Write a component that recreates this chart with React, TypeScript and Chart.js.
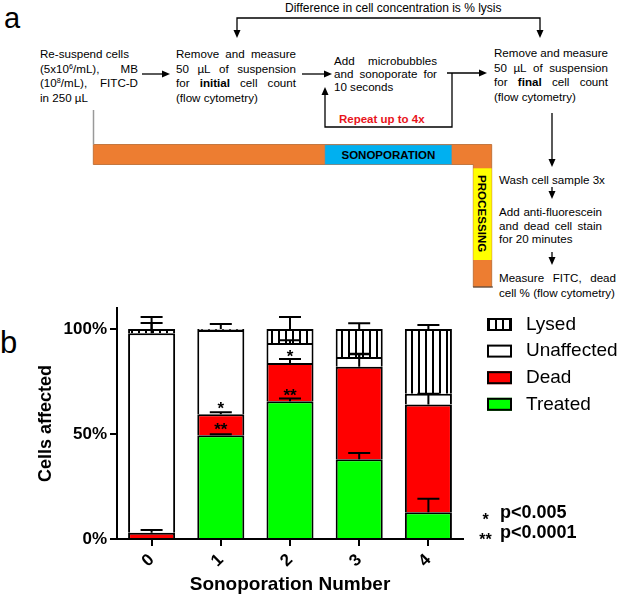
import React, { useEffect, useRef } from 'react';
import { Chart, registerables } from 'chart.js';

Chart.register(...registerables);

const FF = "'Liberation Sans', Arial, Helvetica, sans-serif";
Chart.defaults.font.family = FF;
Chart.defaults.color = '#000';

// ---- data ----
const categories = ['0', '1', '2', '3', '4'];
const seriesNames = ['Treated', 'Dead', 'Unaffected', 'Lysed'];
const treated = [0, 49.4, 65.6, 38, 12.7];
const dead = [3, 10, 18.2, 44, 51.4];
const unaffected = [95, 40.1, 9.5, 4.7, 5.1];
const lysed = [2, 0.5, 6.7, 13.3, 30.8];
const treatedErr = [0, 0.5, 1.3, 3, 6.5];
const deadErr = [1.3, 0.9, 1.9, 6, 5.1];
const unaffectedErr = [4.9, 0, 1.3, 1.5, 0];
const lysedErr = [5.7, 2.4, 5.7, 2.7, 1.9];
const deadStars = ['', '**', '**', '', ''];
const unaffectedStars = ['', '*', '*', '', ''];
const yTicks = [0, 50, 100];
const pStars = ['*', '**'];
const pLabels = ['p<0.005', 'p<0.0001'];

const seriesData = [treated, dead, unaffected, lysed];
const seriesErr = [treatedErr, deadErr, unaffectedErr, lysedErr];
const seriesStars: (string[] | null)[] = [null, deadStars, unaffectedStars, null];

const overlayPlugin = {
  id: 'overlay',
  afterDatasetsDraw(chart: any) {
    const { ctx } = chart;
    const y = chart.scales.y;
    ctx.save();
    chart.data.datasets.forEach((ds: any, di: number) => {
      const meta = chart.getDatasetMeta(di);
      meta.data.forEach((el: any, i: number) => {
        let base = 0;
        for (let k = 0; k < di; k++) base += chart.data.datasets[k].data[i];
        const top = base + ds.data[i];
        // stars
        const st = seriesStars[di];
        if (st && st[i]) {
          const py = y.getPixelForValue(base + 5);
          ctx.font = `bold 17px ${FF}`;
          ctx.textAlign = 'center';
          ctx.textBaseline = 'alphabetic';
          ctx.fillStyle = '#000';
          ctx.fillText(st[i], el.x, py + 0.58 * 17);
        }
        // error bars
        const e = seriesErr[di][i];
        if (e) {
          const y0 = y.getPixelForValue(top);
          const y1 = y.getPixelForValue(top + e);
          ctx.strokeStyle = '#000';
          ctx.lineWidth = 2;
          ctx.beginPath();
          ctx.moveTo(el.x, y0);
          ctx.lineTo(el.x, y1);
          ctx.moveTo(el.x - 11, y1);
          ctx.lineTo(el.x + 11, y1);
          ctx.stroke();
        }
      });
    });
    ctx.restore();
  },
  afterDraw(chart: any) {
    const { ctx, chartArea } = chart;
    ctx.save();
    // legend (reverse order)
    const items = chart.data.datasets.map((d: any) => ({ label: d.label, fill: d.backgroundColor })).reverse();
    const x0 = chartArea.right + 24;
    const y0 = chartArea.top + 16.5;
    items.forEach((it: any, k: number) => {
      const cy = y0 + k * 26.6;
      ctx.fillStyle = it.fill;
      ctx.fillRect(x0, cy - 6.5, 25, 13);
      ctx.lineWidth = 2;
      ctx.strokeStyle = '#000';
      ctx.strokeRect(x0 + 1, cy - 5.5, 23, 11);
      ctx.fillStyle = '#000';
      ctx.font = `19px ${FF}`;
      ctx.textAlign = 'left';
      ctx.textBaseline = 'middle';
      ctx.fillText(it.label, x0 + 39, cy);
    });
    // p-value notes
    pLabels.forEach((lab, k) => {
      const cy = chartArea.bottom - 25.5 + k * 20;
      ctx.fillStyle = '#000';
      ctx.font = `bold 18px ${FF}`;
      ctx.textAlign = 'left';
      ctx.textBaseline = 'middle';
      ctx.fillText(lab, chartArea.right + 37, cy);
      ctx.font = `bold 16px ${FF}`;
      ctx.textAlign = 'center';
      ctx.textBaseline = 'alphabetic';
      ctx.fillText(pStars[k], chartArea.right + 22.5, cy + 2.5 + 9.3);
    });
    ctx.restore();
  },
};

const FS = 11.6;
const supS: any = { fontSize: '0.62em', verticalAlign: '0.5em', lineHeight: 0 };

function Txt({ x, y, w, words, lh = 14, style }: any) {
  const common: any = {
    position: 'absolute', left: x, top: y - lh / 2, height: lh, lineHeight: lh + 'px',
    fontSize: FS, whiteSpace: 'nowrap', ...style,
  };
  if (w) {
    return (
      <div style={{ ...common, width: w, display: 'flex', justifyContent: 'space-between' }}>
        {words.map((wd: any, i: number) => <span key={i}>{wd}</span>)}
      </div>
    );
  }
  return <div style={common}>{words}</div>;
}

function ah(x: number, y: number, dir: string) {
  const L = 8, W = 3.5;
  let pts: number[][] = [];
  if (dir === 'r') pts = [[x, y], [x - L, y - W], [x - L, y + W]];
  if (dir === 'd') pts = [[x, y], [x - W, y - L], [x + W, y - L]];
  if (dir === 'u') pts = [[x, y], [x - W, y + L], [x + W, y + L]];
  return <polygon points={pts.map(p => p.join(',')).join(' ')} fill="#000" />;
}

export default function App() {
  const ref = useRef<HTMLCanvasElement>(null);
  useEffect(() => {
    const canvas = ref.current!;
    const pc = document.createElement('canvas');
    pc.width = 7; pc.height = 7;
    const pctx = pc.getContext('2d')!;
    pctx.fillStyle = '#fff'; pctx.fillRect(0, 0, 7, 7);
    pctx.fillStyle = '#000'; pctx.fillRect(5, 0, 2, 7);
    const hatch = canvas.getContext('2d')!.createPattern(pc, 'repeat');
    const colors: any[] = ['#00ff00', '#ff0000', '#ffffff', hatch];
    const chart = new Chart(canvas, {
      type: 'bar',
      data: {
        labels: categories,
        datasets: seriesData.map((d, i) => ({
          label: seriesNames[i], data: d, backgroundColor: colors[i], borderColor: '#000',
          borderWidth: 2, barPercentage: 0.68, categoryPercentage: 1,
        })),
      },
      options: {
        responsive: false,
        animation: false,
        layout: { padding: { top: 18, right: 157, left: 0, bottom: 0 } },
        plugins: { legend: { display: false }, tooltip: { enabled: false } },
        scales: {
          x: {
            stacked: true,
            grid: { display: true, drawOnChartArea: false, drawTicks: true, tickLength: 7, color: '#000', lineWidth: 2, offset: false },
            border: { display: true, color: '#000', width: 2 },
            ticks: { font: { weight: 'bold', size: 17 }, color: '#000', minRotation: 45, maxRotation: 45, padding: 4 },
            title: { display: true, text: 'Sonoporation Number', font: { weight: 'bold', size: 19 }, color: '#000', padding: { top: 0, bottom: 1.6 } },
            afterFit: (s: any) => { s.height = 59; },
          },
          y: {
            stacked: true, min: 0, max: 110,
            afterBuildTicks: (s: any) => { s.ticks = yTicks.map(v => ({ value: v })); },
            ticks: { callback: (v: any) => v + '%', font: { weight: 'bold', size: 17 }, color: '#000', padding: 3 },
            grid: { display: true, drawOnChartArea: false, drawTicks: true, tickLength: 7, color: '#000', lineWidth: 2 },
            border: { display: true, color: '#000', width: 2 },
            title: { display: true, text: 'Cells affected', font: { weight: 'bold', size: 18 }, color: '#000', padding: { top: 35, bottom: 0 } },
            afterFit: (s: any) => { s.width = 117; },
          },
        },
      } as any,
      plugins: [overlayPlugin],
    });
    return () => chart.destroy();
  }, []);

  const B = (t: string) => <b>{t}</b>;
  return (
    <div style={{ position: 'absolute', left: 0, top: 0, width: 620, height: 598, background: '#fff', fontFamily: FF, color: '#000', overflow: 'hidden' }}>
      <svg width={620} height={300} style={{ position: 'absolute', left: 0, top: 0 }}>
        {/* process bar */}
        <path d="M93.3,144.5 H491.7 V287 H473.3 V164.5 H93.3 Z" fill="#ED7D31" stroke="#b8642a" strokeWidth={0.8} />
        <rect x={325} y={145} width={126.7} height={19.3} fill="#00B0F0" stroke="#6a8fa0" strokeWidth={0.6} />
        <rect x={473.3} y={168.3} width={18.4} height={91.7} fill="#FFFF00" />
        <line x1={473} y1={287} x2={493} y2={287} stroke="#444" strokeWidth={1} />
        <line x1={93.5} y1={110} x2={93.5} y2={144.5} stroke="#999" strokeWidth={1.5} />
        <g stroke="#000" strokeWidth={1.3} fill="none">
          <polyline points="237,31 237,18 540,18 540,31" />
          <line x1={142} y1={74} x2={163} y2={74} />
          <line x1={302} y1={74} x2={325} y2={74} />
          <line x1={447} y1={73} x2={480} y2={73} />
          <polyline points="452,73 452,127 325,127 325,94" />
          <line x1={552} y1={113} x2={552} y2={160} />
          <line x1={552} y1={187} x2={552} y2={193} />
          <line x1={552} y1={252} x2={552} y2={259} />
        </g>
        {ah(237, 38, 'd')}
        {ah(540, 38, 'd')}
        {ah(170, 74, 'r')}
        {ah(332, 74, 'r')}
        {ah(487, 73, 'r')}
        {ah(325, 87, 'u')}
        {ah(552, 167, 'd')}
        {ah(552, 199, 'd')}
        {ah(552, 265, 'd')}
      </svg>

      <div style={{ position: 'absolute', left: 4, top: 2.6, fontSize: 29, lineHeight: '30px' }}>a</div>
      <div style={{ position: 'absolute', left: 0, top: 327, fontSize: 31, lineHeight: '32px' }}>b</div>

      <Txt x={285} y={8.3} words="Difference in cell concentration is % lysis" style={{ fontSize: 12 }} />

      <Txt x={40} y={54} words="Re-suspend cells" />
      <Txt x={40} y={68.7} w={98} words={[<>(5x10<sup style={supS}>6</sup>/mL),</>, 'MB']} />
      <Txt x={40} y={83} w={98} words={[<>(10<sup style={supS}>8</sup>/mL),</>, 'FITC-D']} />
      <Txt x={40} y={97.7} words="in 250 µL" />

      <Txt x={176} y={54} w={120} words={['Remove', 'and', 'measure']} />
      <Txt x={176} y={68.7} w={120} words={['50', 'µL', 'of', 'suspension']} />
      <Txt x={176} y={83} w={120} words={['for', B('initial'), 'cell', 'count']} />
      <Txt x={176} y={97.7} words="(flow cytometry)" />

      <Txt x={334} y={61} w={103} words={['Add', 'microbubbles']} />
      <Txt x={334} y={74} w={103} words={['and', 'sonoporate', 'for']} />
      <Txt x={334} y={87} words="10 seconds" />

      <Txt x={339} y={119} words="Repeat up to 4x" style={{ fontWeight: 'bold', color: '#e8141b', fontSize: 11.5 }} />

      <Txt x={494} y={53.3} w={114} words={['Remove', 'and', 'measure']} />
      <Txt x={494} y={67.7} w={114} words={['50', 'µL', 'of', 'suspension']} />
      <Txt x={494} y={82} w={114} words={['for', B('final'), 'cell', 'count']} />
      <Txt x={494} y={96.7} words="(flow cytometry)" />

      <div style={{ position: 'absolute', left: 325, top: 145, width: 126.7, height: 19.3, display: 'flex', alignItems: 'center', justifyContent: 'center', fontWeight: 'bold', fontSize: 11.5 }}>SONOPORATION</div>
      <div style={{ position: 'absolute', left: 473.3, top: 168.3, width: 18.4, height: 91.7, display: 'flex', alignItems: 'center', justifyContent: 'center', fontWeight: 'bold', fontSize: 11.6, writingMode: 'vertical-rl' as any }}>PROCESSING</div>

      <Txt x={499} y={180} words="Wash cell sample 3x" />
      <Txt x={499} y={211.7} w={103} words={['Add', 'anti-fluorescein']} />
      <Txt x={499} y={225.7} w={103} words={['and', 'dead', 'cell', 'stain']} />
      <Txt x={499} y={239.3} words="for 20 minutes" />
      <Txt x={499} y={278.3} w={117} words={['Measure', 'FITC,', 'dead']} />
      <Txt x={499} y={293.3} words="cell % (flow cytometry)" />

      <canvas ref={ref} width={620} height={308} style={{ position: 'absolute', left: 0, top: 290, width: 620, height: 308 }} />
    </div>
  );
}
